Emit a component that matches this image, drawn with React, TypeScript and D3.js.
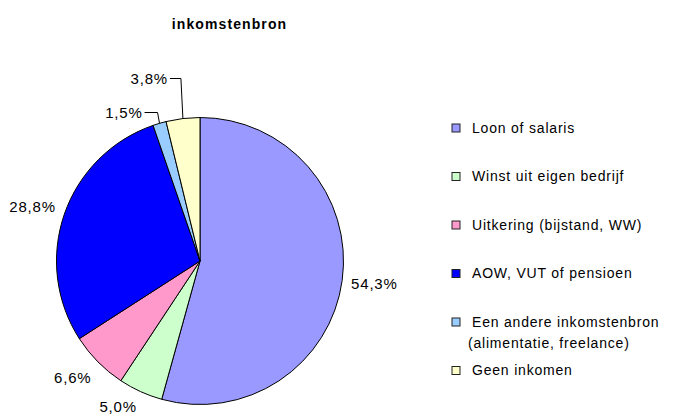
import React from "react";
import * as d3 from "d3";

const title = "inkomstenbron";
const categories = [
  "Loon of salaris",
  "Winst uit eigen bedrijf",
  "Uitkering (bijstand, WW)",
  "AOW, VUT of pensioen",
  "Een andere inkomstenbron\n(alimentatie, freelance)",
  "Geen inkomen",
];
const values = [54.3, 5.0, 6.6, 28.8, 1.5, 3.8];
const colors = ["#9999FF", "#CCFFCC", "#FF99CC", "#0000FF", "#99CCFF", "#FFFFCC"];

const W = 679;
const H = 416;
const FONT = "'Liberation Sans', Arial, Helvetica, sans-serif";

export default function App() {
  const cx = 200;
  const cy = 261;
  const r = 143.5;

  const pie = d3.pie<number>().sort(null).value((d) => d);
  const arcs = pie(values);
  const arcGen = d3.arc<d3.PieArcDatum<number>>().innerRadius(0).outerRadius(r);

  const fmt = (v: number) => v.toFixed(1).replace(".", ",") + "%";

  // leader labels for tiny slices near the top
  const smallIdx = arcs
    .map((a, i) => ({ a, i }))
    .filter(({ a }) => a.data < 5 && (a.startAngle + a.endAngle) / 2 > Math.PI * 1.5)
    .sort((p, q) => (p.a.startAngle + p.a.endAngle) - (q.a.startAngle + q.a.endAngle))
    .map((d) => d.i);

  const legendX = 452;
  const legendY0 = 128;
  const legendStep = 48.5;

  return (
    <svg
      width={W}
      height={H}
      style={{ position: "absolute", left: 0, top: 0, background: "#fff" }}
      fontFamily={FONT}
    >
      <text
        x={229.5}
        y={29}
        textAnchor="middle"
        fontSize={14}
        fontWeight="bold"
        letterSpacing={1.1}
        fill="#000"
      >
        {title}
      </text>
      <g transform={`translate(${cx},${cy})`}>
        {arcs.map((a, i) => (
          <path key={i} d={arcGen(a) || ""} fill={colors[i]} stroke="#000" strokeWidth={1} />
        ))}
      </g>
      {arcs.map((a, i) => {
        const mid = (a.startAngle + a.endAngle) / 2;
        const s = Math.sin(mid);
        const c = Math.cos(mid);
        const ex = cx + r * s;
        const ey = cy - r * c;
        const k = smallIdx.indexOf(i);
        if (k >= 0) {
          const ly = cy - r - 5 - 34 * k;
          const tx = ex - 17 + (k === 1 ? 2 : 0);
          return (
            <g key={"l" + i}>
              <polyline
                points={`${tx + 2},${ly} ${ex - 2},${ly} ${ex},${ey}`}
                fill="none"
                stroke="#000"
                strokeWidth={1}
              />
              <text
                x={tx}
                y={ly}
                dy="0.35em"
                textAnchor="end"
                fontSize={15}
                letterSpacing={0.8}
                fill="#000"
              >
                {fmt(a.data)}
              </text>
            </g>
          );
        }
        const lr = r + 9;
        const lx = cx + lr * s;
        const ly = Math.min(cy - lr * c - c * 14, H - 9);
        return (
          <text
            key={"l" + i}
            x={lx}
            y={ly}
            dy="0.35em"
            textAnchor={s >= 0 ? "start" : "end"}
            fontSize={15}
            letterSpacing={0.8}
            fill="#000"
          >
            {fmt(a.data)}
          </text>
        );
      })}
      {categories.map((cat, i) => {
        const y = legendY0 + i * legendStep;
        const lines = cat.split("\n");
        return (
          <g key={"lg" + i}>
            <rect x={legendX} y={y - 4} width={8} height={8} fill={colors[i]} stroke="#222" strokeWidth={1} />
            {lines.map((ln, j) => (
              <text
                key={j}
                x={legendX + 20 - (j > 0 ? 4 : 0)}
                y={y + j * 21}
                dy="0.35em"
                fontSize={14}
                letterSpacing={0.8}
                fill="#000"
              >
                {ln}
              </text>
            ))}
          </g>
        );
      })}
    </svg>
  );
}
